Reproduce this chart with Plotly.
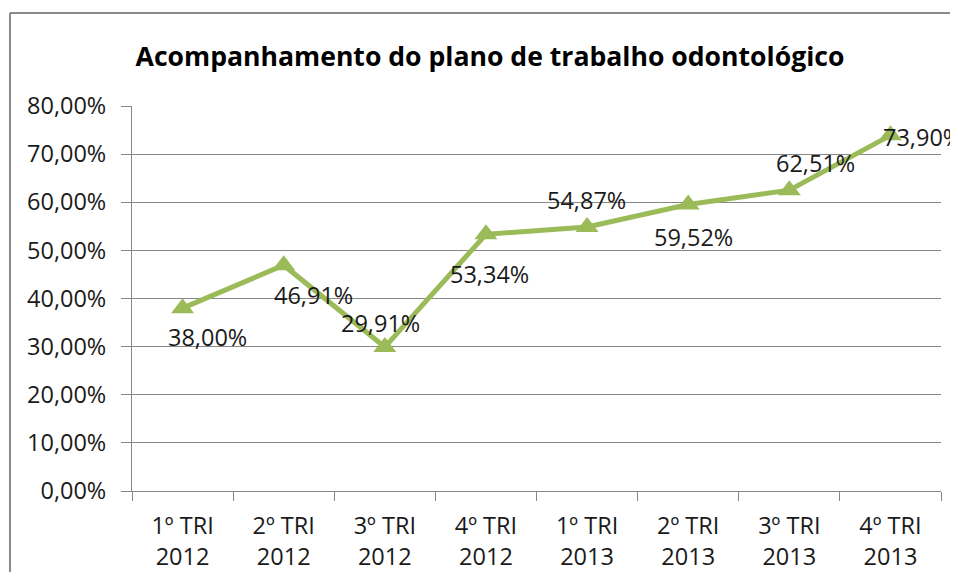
import plotly.graph_objects as go

categories = ["1º TRI<br>2012", "2º TRI<br>2012", "3º TRI<br>2012", "4º TRI<br>2012",
              "1º TRI<br>2013", "2º TRI<br>2013", "3º TRI<br>2013", "4º TRI<br>2013"]
values = [38.00, 46.91, 29.91, 53.34, 54.87, 59.52, 62.51, 73.90]
value_labels = ["38,00%", "46,91%", "29,91%", "53,34%", "54,87%", "59,52%", "62,51%", "73,90%"]
y_ticks = [0, 10, 20, 30, 40, 50, 60, 70, 80]
y_tick_labels = ["0,00%", "10,00%", "20,00%", "30,00%", "40,00%", "50,00%", "60,00%", "70,00%", "80,00%"]

# label offsets (pixels) relative to each point: style only
label_shift = [(25, -29), (30, -30), (-4, 24), (4, -40), (-1, 27), (5, -32), (26, 27), (32, -2)]

# the page body adds an 8px margin on every side; size the figure so the page does not scroll
OFF = 8
W, H = 958 - OFF, 580 - 2 * OFF
ML, MR, MT, MB = 132 - OFF, 17, 106 - OFF, 89 - OFF
PW, PH = W - ML - MR, H - MT - MB

FONT = "Open Sans"
GREEN = "#9BBB59"
GRID = "#878787"
TXT = "#1a1a1a"
FS = 23.5

fig = go.Figure()
fig.add_trace(go.Scatter(
    x=categories, y=values, mode="lines+markers",
    line=dict(color=GREEN, width=5),
    marker=dict(symbol="triangle-up", size=20, color=GREEN),
    hoverinfo="skip", showlegend=False, cliponaxis=False,
))

for c, v, lab, (dx, dy) in zip(categories, values, value_labels, label_shift):
    fig.add_annotation(x=c, y=v, text=lab, showarrow=False, xshift=dx, yshift=dy,
                       font=dict(family=FONT, size=FS, color=TXT))

def px_x(px):
    return (px - OFF - ML) / PW

def px_y(py):
    return (H - MB - (py - OFF)) / PH

# chart-area border (left and top edges visible in the crop)
fig.add_shape(type="line", xref="paper", yref="paper",
              x0=px_x(10), x1=px_x(10), y0=px_y(13), y1=px_y(585),
              line=dict(color="#8a8a8a", width=2))
fig.add_shape(type="line", xref="paper", yref="paper",
              x0=px_x(10), x1=px_x(960), y0=px_y(13), y1=px_y(13),
              line=dict(color="#8a8a8a", width=2))

fig.update_layout(
    width=W, height=H,
    margin=dict(l=ML, r=MR, t=MT, b=MB, autoexpand=False),
    paper_bgcolor="white", plot_bgcolor="white",
    font=dict(family=FONT, color=TXT),
    title=dict(text="<b>Acompanhamento do plano de trabalho odontológico</b>",
               x=(490 - OFF) / W, xanchor="center", xref="container",
               y=1 - (57 - OFF) / H, yanchor="middle", yref="container",
               font=dict(family=FONT, size=26.6, color="#000000")),
    xaxis=dict(type="category", range=[-0.5, 7.5], showgrid=False,
               showline=True, linecolor=GRID, linewidth=1,
               ticks="outside", tickson="boundaries", ticklen=9, tickcolor=GRID,
               ticklabelstandoff=14,
               tickfont=dict(family=FONT, size=FS, color=TXT), fixedrange=True),
    yaxis=dict(range=[0, 80], tickvals=y_ticks, ticktext=y_tick_labels,
               showgrid=True, gridcolor=GRID, gridwidth=1,
               showline=True, linecolor=GRID, linewidth=1,
               ticks="outside", ticklen=10, tickcolor=GRID,
               ticklabelstandoff=10,
               tickfont=dict(family=FONT, size=FS, color=TXT),
               zeroline=False, fixedrange=True),
)

fig.write_html("out.html")
